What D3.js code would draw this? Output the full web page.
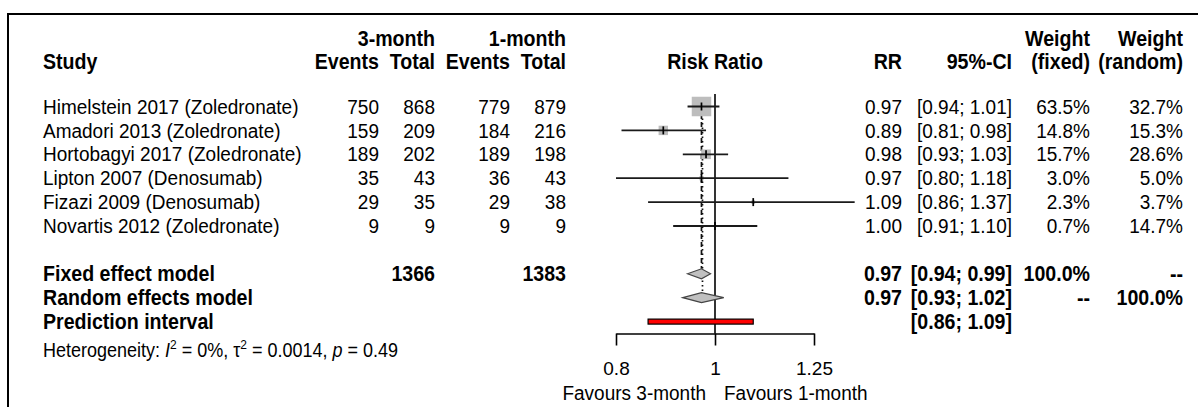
<!DOCTYPE html>
<html>
<head>
<meta charset="utf-8">
<script src="https://cdn.jsdelivr.net/npm/d3@7"></script>
<style>
  html, body { margin: 0; padding: 0; background: #fff; }
  svg { display: block; }
  text { font-family: "Liberation Sans", Arial, sans-serif; fill: #000; }
</style>
</head>
<body>
<svg id="chart" width="1198" height="407"></svg>
<script>
// Study-level data
const studies = [
  "Himelstein 2017 (Zoledronate)",
  "Amadori 2013 (Zoledronate)",
  "Hortobagyi 2017 (Zoledronate)",
  "Lipton 2007 (Denosumab)",
  "Fizazi 2009 (Denosumab)",
  "Novartis 2012 (Zoledronate)"
];
const events3 = [750, 159, 189, 35, 29, 9];
const total3  = [868, 209, 202, 43, 35, 9];
const events1 = [779, 184, 189, 36, 29, 9];
const total1  = [879, 216, 198, 43, 38, 9];
const rr      = [0.97, 0.89, 0.98, 0.97, 1.09, 1.00];
const ciLow   = [0.94, 0.81, 0.93, 0.80, 0.86, 0.91];
const ciHigh  = [1.01, 0.98, 1.03, 1.18, 1.37, 1.10];
const weightFixed  = [63.5, 14.8, 15.7, 3.0, 2.3, 0.7];
const weightRandom = [32.7, 15.3, 28.6, 5.0, 3.7, 14.7];

// Pooled estimates
const fixedModel  = { rr: 0.97, lo: 0.94, hi: 0.99, total3: 1366, total1: 1383 };
const randomModel = { rr: 0.97, lo: 0.93, hi: 1.02 };
const predInterval = { lo: 0.86, hi: 1.09 };

// Axis
const axisTicks = [0.8, 1, 1.25];
const axisTickLabels = ["0.8", "1", "1.25"];

const svg = d3.select("#chart");
const FS = 19;       // body font size
const FSB = 19.6;    // bold font size
const STRETCH = 1.08; // slight vertical stretch of the lettering

// frame
svg.append("path")
  .attr("d", "M8,420 L8,14 L1210,14")
  .attr("fill", "none").attr("stroke", "#000").attr("stroke-width", 2);

const x = d3.scaleLog().domain([0.8, 1.25]).range([616, 814]);

// row layout (row index -> vertical centre)
const rowY = d3.scaleLinear().domain([0, 1]).range([106.5, 130.4]);

// columns (right-aligned unless noted)
const col = {
  study: 43, ev3: 379, tot3: 435, ev1: 510, tot1: 566,
  rr: 902, ci: 1012, wf: 1090, wr: 1183, plot: 715
};

function txt(g, s, xx, yy, anchor, bold, size) {
  return g.append("text")
    .attr("transform", `translate(${xx},${yy}) scale(1,${STRETCH})`)
    .attr("dy", "0.35em")
    .attr("text-anchor", anchor || "end")
    .attr("font-size", size || (bold ? FSB : FS))
    .attr("font-weight", bold ? "bold" : "normal")
    .text(s);
}

// headers
const hd = svg.append("g");
const h1 = 39, h2 = 62;
txt(hd, "3-month", col.tot3, h1, "end", true);
txt(hd, "1-month", col.tot1, h1, "end", true);
txt(hd, "Weight", col.wf, h1, "end", true);
txt(hd, "Weight", col.wr, h1, "end", true);
txt(hd, "Study", col.study, h2, "start", true);
txt(hd, "Events", col.ev3, h2, "end", true);
txt(hd, "Total", col.tot3, h2, "end", true);
txt(hd, "Events", col.ev1, h2, "end", true);
txt(hd, "Total", col.tot1, h2, "end", true);
txt(hd, "Risk Ratio", col.plot, h2, "middle", true);
txt(hd, "RR", col.rr, h2, "end", true);
txt(hd, "95%-CI", col.ci, h2, "end", true);
txt(hd, "(fixed)", col.wf, h2, "end", true);
txt(hd, "(random)", col.wr, h2, "end", true);

const f2 = d3.format(".2f");
const f1 = d3.format(".1f");
const ciText = (lo, hi) => "[" + f2(lo) + "; " + f2(hi) + "]";

// study rows
const body = svg.append("g");
studies.forEach((s, i) => {
  const y = rowY(i);
  txt(body, s, col.study, y, "start");
  txt(body, events3[i], col.ev3, y);
  txt(body, total3[i], col.tot3, y);
  txt(body, events1[i], col.ev1, y);
  txt(body, total1[i], col.tot1, y);
  txt(body, f2(rr[i]), col.rr, y);
  txt(body, ciText(ciLow[i], ciHigh[i]), col.ci, y);
  txt(body, f1(weightFixed[i]) + "%", col.wf, y);
  txt(body, f1(weightRandom[i]) + "%", col.wr, y);
});

// pooled rows
const yFixed = rowY(7), yRandom = rowY(8), yPred = rowY(9);
txt(body, "Fixed effect model", col.study, yFixed, "start", true);
txt(body, fixedModel.total3, col.tot3, yFixed, "end", true);
txt(body, fixedModel.total1, col.tot1, yFixed, "end", true);
txt(body, f2(fixedModel.rr), col.rr, yFixed, "end", true);
txt(body, ciText(fixedModel.lo, fixedModel.hi), col.ci, yFixed, "end", true);
txt(body, "100.0%", col.wf, yFixed, "end", true);
txt(body, "--", col.wr, yFixed, "end", true);

txt(body, "Random effects model", col.study, yRandom, "start", true);
txt(body, f2(randomModel.rr), col.rr, yRandom, "end", true);
txt(body, ciText(randomModel.lo, randomModel.hi), col.ci, yRandom, "end", true);
txt(body, "--", col.wf, yRandom, "end", true);
txt(body, "100.0%", col.wr, yRandom, "end", true);

txt(body, "Prediction interval", col.study, yPred, "start", true);
txt(body, ciText(predInterval.lo, predInterval.hi), col.ci, yPred, "end", true);

// heterogeneity line
const het = body.append("text")
  .attr("transform", `translate(${col.study},350) scale(1,${STRETCH})`)
  .attr("dy", "0.35em")
  .attr("font-size", 18);
het.append("tspan").text("Heterogeneity: ");
het.append("tspan").attr("font-style", "italic").text("I");
het.append("tspan").attr("font-size", 12).attr("dy", -7).text("2");
het.append("tspan").attr("dy", 7).text(" = 0%, ");
het.append("tspan").text("\u03C4");
het.append("tspan").attr("font-size", 12).attr("dy", -7).text("2");
het.append("tspan").attr("dy", 7).text(" = 0.0014, ");
het.append("tspan").attr("font-style", "italic").text("p");
het.append("tspan").text(" = 0.49");

// forest plot
const plot = svg.append("g");
const axisY = 333.5;
const dh = 5; // diamond half-height

// line of no effect
plot.append("line")
  .attr("x1", x(1)).attr("x2", x(1))
  .attr("y1", 94).attr("y2", axisY)
  .attr("stroke", "#000").attr("stroke-width", 1.6);

// pooled effect reference lines
plot.append("line")
  .attr("x1", x(fixedModel.rr)).attr("x2", x(fixedModel.rr))
  .attr("y1", 114).attr("y2", yFixed - dh)
  .attr("stroke", "#111").attr("stroke-width", 1.7)
  .attr("stroke-dasharray", "5,3");
plot.append("line")
  .attr("x1", x(randomModel.rr) + 1).attr("x2", x(randomModel.rr) + 1)
  .attr("y1", 114).attr("y2", yRandom - dh)
  .attr("stroke", "#111").attr("stroke-width", 1.7)
  .attr("stroke-dasharray", "1.5,3");

// study squares, CIs and point ticks
const side = d3.scaleSqrt().domain([0, 63.5]).range([0, 19.5]);
studies.forEach((s, i) => {
  const y = rowY(i);
  const sz = Math.max(side(weightFixed[i]), 2);
  plot.append("rect")
    .attr("x", x(rr[i]) - sz / 2).attr("y", y - sz / 2)
    .attr("width", sz).attr("height", sz)
    .attr("fill", "#bdbdbd");
  plot.append("line")
    .attr("x1", x(ciLow[i])).attr("x2", x(ciHigh[i]))
    .attr("y1", y).attr("y2", y)
    .attr("stroke", "#1a1a1a").attr("stroke-width", 1.8);
  plot.append("line")
    .attr("x1", x(rr[i])).attr("x2", x(rr[i]))
    .attr("y1", y - 4).attr("y2", y + 4)
    .attr("stroke", "#000").attr("stroke-width", 1.7);
});

// diamonds
function diamond(m, y) {
  plot.append("path")
    .attr("d", `M${x(m.lo)},${y} L${x(m.rr)},${y - dh} L${x(m.hi)},${y} L${x(m.rr)},${y + dh} Z`)
    .attr("fill", "#c0c0c0").attr("stroke", "#444").attr("stroke-width", 1.2);
}
diamond(fixedModel, yFixed);
diamond(randomModel, yRandom);

// prediction interval bar
plot.append("rect")
  .attr("x", x(predInterval.lo)).attr("y", yPred - 2.5)
  .attr("width", x(predInterval.hi) - x(predInterval.lo)).attr("height", 5)
  .attr("fill", "#ff0000").attr("stroke", "#000").attr("stroke-width", 1.2);

// axis
const axis = d3.axisBottom(x)
  .tickValues(axisTicks)
  .tickFormat((d, i) => axisTickLabels[i])
  .tickSize(12).tickSizeOuter(0).tickPadding(16);
const ag = svg.append("g").attr("transform", `translate(0,${axisY})`).call(axis);
ag.select(".domain").attr("stroke", "#000").attr("stroke-width", 1.6);
ag.selectAll(".tick line").attr("stroke", "#000").attr("stroke-width", 1.6);
ag.selectAll(".tick text")
  .attr("font-family", "Liberation Sans, Arial, sans-serif")
  .attr("font-size", FS).attr("fill", "#000");

txt(svg, "Favours 3-month", x(1) - 9, 393, "end");
txt(svg, "Favours 1-month", x(1) + 9, 393, "start");
</script>
</body>
</html>
